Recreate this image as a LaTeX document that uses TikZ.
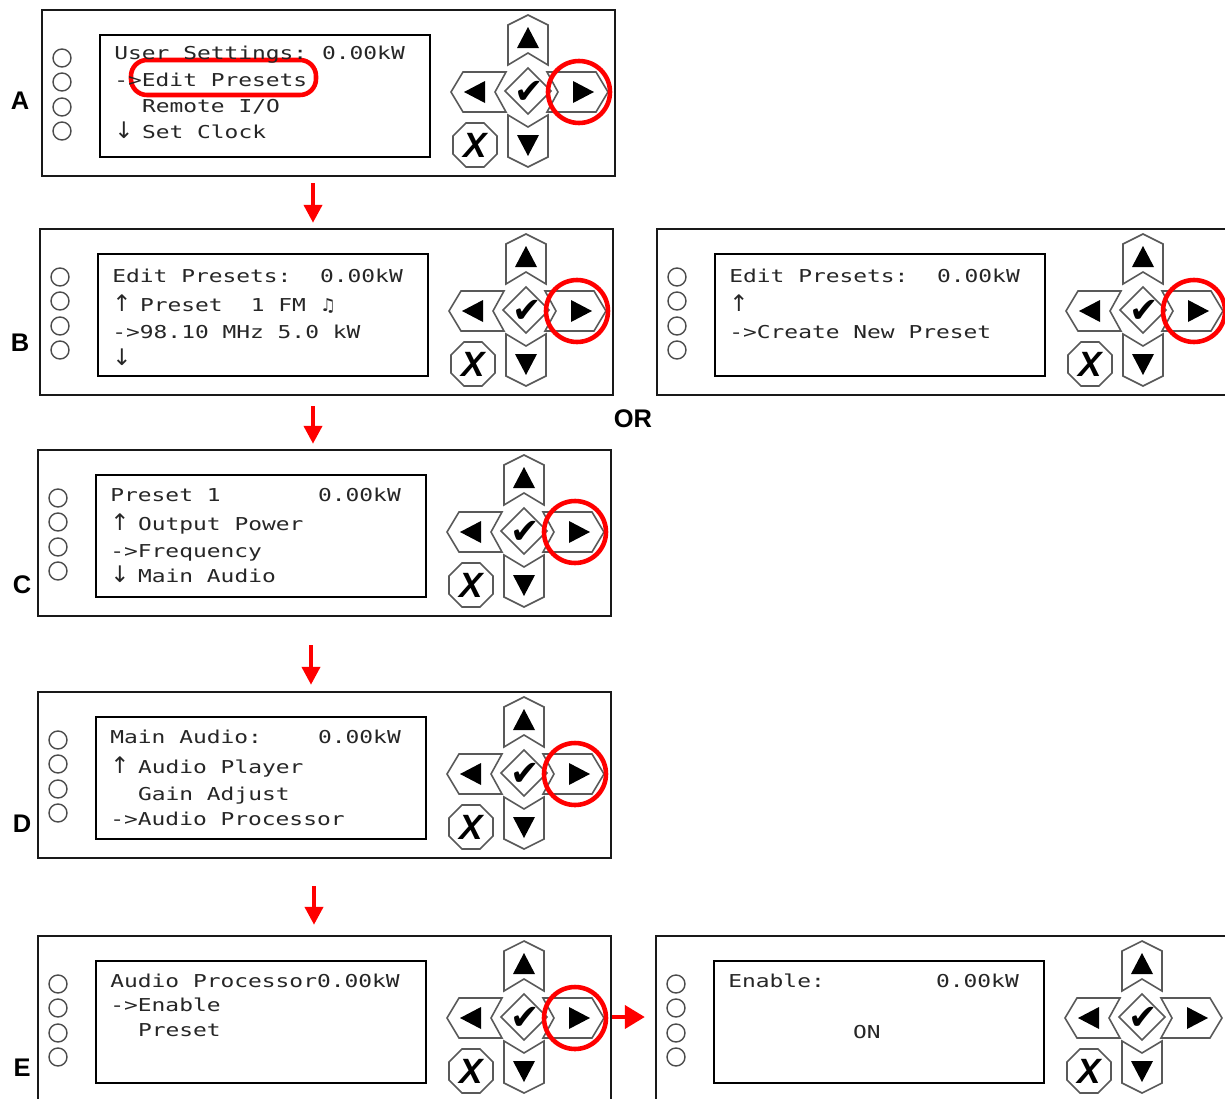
\documentclass[tikz,border=0pt]{standalone}
\usepackage{fontspec}
\setmainfont{Liberation Sans}
\newfontfamily\lcdfont[FakeStretch=1.29]{DejaVu Sans Mono}
\newfontfamily\djv{DejaVu Sans}
\usetikzlibrary{arrows.meta,shapes.geometric}

\newcounter{lcdc}
\newcommand\lcd[3]{\stepcounter{lcdc}\node[lcdtext] (lcd\arabic{lcdc}) at ({72+13.85*#1},#2) {#3};}
\newcommand\upar{{\djv\fontsize{13}{13}\selectfont ↑}}
\newcommand\dnar{{\djv\fontsize{13}{13}\selectfont ↓}}

\newcommand\panel[3]{%
\begin{scope}[shift={(#2,#3)}]
\node[panelbox] (#1) at (286.5,83) {};
\node[dispbox] (#1-disp) at (223,86) {};
\node[ledc] (#1-l1) at (20,48) {};
\node[ledc] (#1-l2) at (20,72) {};
\node[ledc] (#1-l3) at (20,97) {};
\node[ledc] (#1-l4) at (20,121) {};
\draw[btn] (486,5) -- (506,15) -- (506,55) -- (486,43) -- (466,55) -- (466,15) -- cycle;
\draw[btn] (466,105) -- (486,117) -- (506,105) -- (506,147) -- (486,157) -- (466,147) -- cycle;
\draw[btn] (409,82) -- (421,62) -- (464,62) -- (453,82) -- (464,102) -- (421,102) -- cycle;
\draw[btn] (505,62) -- (554,62) -- (566,82) -- (554,102) -- (505,102) -- (516,82) -- cycle;
\draw[btn] (486,58) -- (509,81) -- (486,104) -- (463,81) -- cycle;
\draw[btn] (433,135) +(22.5:23.8) -- +(67.5:23.8) -- +(112.5:23.8) -- +(157.5:23.8) -- +(202.5:23.8) -- +(247.5:23.8) -- +(292.5:23.8) -- +(337.5:23.8) -- cycle;
\fill[tri] (486,17) -- (497,38) -- (475,38) -- cycle;
\fill[tri] (475,125) -- (497,125) -- (486,146) -- cycle;
\fill[tri] (422,82) -- (443,71) -- (443,93) -- cycle;
\fill[tri] (552,82) -- (531,71) -- (531,93) -- cycle;
\node[okmark] (#1-ok) at (487,82) {✔};
\node[xmark] (#1-x) at (433,135) {X};
\end{scope}}

\newcommand\ring[2]{\draw[ring] ({#1+537},{#2+82}) circle[radius=0.62cm];}

\begin{document}
\begin{tikzpicture}[x=0.02cm,y=-0.02cm,
 panelbox/.style={draw=black!90, line width=1.4pt, minimum width=11.46cm, minimum height=3.32cm, inner sep=0},
 dispbox/.style={draw=black, line width=1.2pt, minimum width=6.6cm, minimum height=2.44cm, inner sep=0},
 ledc/.style={circle, draw=black!70, line width=0.8pt, minimum size=0.36cm, inner sep=0},
 btn/.style={draw=black!65, line width=0.9pt, line join=miter},
 tri/.style={fill=black},
 lcdtext/.style={anchor=base west, inner sep=0, font=\lcdfont\fontsize{10.1}{12}\selectfont, text=black!85},
 lbl/.style={font=\bfseries\fontsize{14.5}{16}\selectfont},
 ring/.style={draw=red, line width=2.6pt},
 flow/.style={draw=red, line width=2.3pt, -{Triangle[width=0.36cm,length=0.36cm]}},
 bigflow/.style={draw=red, line width=2.3pt, -{Triangle[width=0.46cm,length=0.4cm]}},
 okmark/.style={font=\djv\fontsize{20}{20}\selectfont, inner sep=0},
 xmark/.style={font=\bfseries\itshape\fontsize{20}{20}\selectfont, inner sep=0}]
\fill[white] (0,0) rectangle (1225,1099);
\useasboundingbox (0,0) rectangle (1225,1099);

\panel{A}{42}{10}
\panel{B}{40}{229}
\panel{Br}{657}{229}
\panel{C}{38}{450}
\panel{D}{38}{692}
\panel{E}{38}{936}
\panel{Er}{656}{936}

\ring{42}{10}
\ring{40}{229}
\ring{657}{229}
\ring{38}{450}
\ring{38}{692}
\ring{38}{936}
\draw[ring, rounded corners=0.32cm] (131,60) rectangle (316,95);

% texts
\begin{scope}[shift={(42,10)}]
\lcd{0}{49}{User Settings:} \lcd{15}{49}{0.00kW}
\lcd{0}{76}{->Edit Presets}
\lcd{2}{102}{Remote I/O}
\lcd{0}{128}{\dnar} \lcd{2}{128}{Set Clock}
\end{scope}
\begin{scope}[shift={(40,229)}]
\lcd{0}{53}{Edit Presets:} \lcd{15}{53}{0.00kW}
\lcd{0}{82}{\upar} \lcd{2}{82}{Preset} \lcd{10}{82}{1 FM} \lcd{15}{82}{{\djv ♫}}
\lcd{0}{109}{->98.10 MHz 5.0 kW}
\lcd{0}{136}{\dnar}
\end{scope}
\begin{scope}[shift={(657,229)}]
\lcd{0}{53}{Edit Presets:} \lcd{15}{53}{0.00kW}
\lcd{0}{82}{\upar}
\lcd{0}{109}{->Create New Preset}
\end{scope}
\begin{scope}[shift={(38,450)}]
\lcd{0}{51}{Preset 1} \lcd{15}{51}{0.00kW}
\lcd{0}{80}{\upar} \lcd{2}{80}{Output Power}
\lcd{0}{107}{->Frequency}
\lcd{0}{132}{\dnar} \lcd{2}{132}{Main Audio}
\end{scope}
\begin{scope}[shift={(38,692)}]
\lcd{0}{51}{Main Audio:} \lcd{15}{51}{0.00kW}
\lcd{0}{81}{\upar} \lcd{2}{81}{Audio Player}
\lcd{2}{108}{Gain Adjust}
\lcd{0}{133}{->Audio Processor}
\end{scope}
\begin{scope}[shift={(38,936)}]
\lcd{0}{51}{Audio Processor0.00kW}
\lcd{0}{75}{->Enable}
\lcd{2}{100}{Preset}
\end{scope}
\begin{scope}[shift={(656,936)}]
\lcd{0}{51}{Enable:} \lcd{15}{51}{0.00kW}
\lcd{9}{102}{ON}
\end{scope}

% labels
\node[lbl] (labA) at (20,101) {A};
\node[lbl] (labB) at (20,343) {B};
\node[lbl] (labC) at (22,585) {C};
\node[lbl] (labD) at (22,824) {D};
\node[lbl] (labE) at (22,1068) {E};
\node[lbl] (labOR) at (633,419) {OR};

% flow arrows
\draw[flow] ([shift={(-15.5,6)}]A.south) -- ([shift={(-13.5,-5)}]B.north);
\draw[flow] ([shift={(-13.5,10)}]B.south) -- ([shift={(-11.5,-5)}]C.north);
\draw[flow] ([shift={(-13.5,28)}]C.south) -- ([shift={(-13.5,-6)}]D.north);
\draw[flow] ([shift={(-10.5,27)}]D.south) -- ([shift={(-10.5,-10)}]E.north);
\draw[bigflow] ([shift={(0,-2)}]E.east) -- ([shift={(-10,-2)}]Er.west);
\end{tikzpicture}
\end{document}
